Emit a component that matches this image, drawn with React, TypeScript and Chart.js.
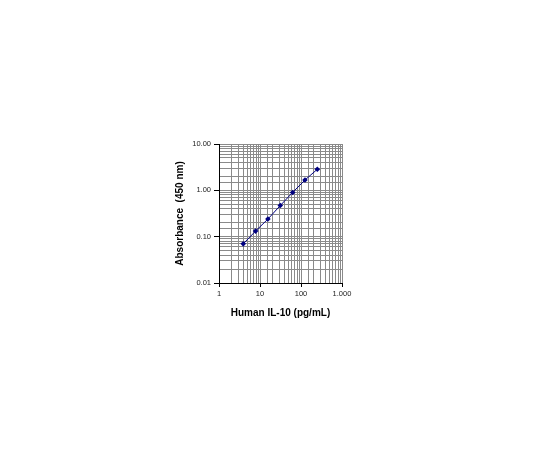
import { useEffect, useRef } from "react";
import { Chart, registerables } from "chart.js";

Chart.register(...registerables);

// IL-10 standard curve (pg/mL vs absorbance at 450 nm)
const concentrations = [3.9, 7.8, 15.6, 31.25, 62.5, 125, 250];
const absorbances = [0.07, 0.132, 0.24, 0.47, 0.9, 1.67, 2.85];

const xTickValues = [1, 10, 100, 1000];
const xTickLabels = ["1", "10", "100", "1.000"];
const yTickValues = [0.01, 0.1, 1, 10];
const yTickLabels = ["0.01", "0.10", "1.00", "10.00"];

const FONT = "'Liberation Sans', Arial, sans-serif";
const NAVY = "#000080";

const isDecade = (v: number) => Math.abs(Math.log10(v) - Math.round(Math.log10(v))) < 1e-6;

function labelFor(v: number, values: number[], labels: string[]) {
  const i = values.findIndex((t) => Math.abs(t - v) / t < 1e-6);
  return i >= 0 ? labels[i] : "";
}

export default function App() {
  const canvasRef = useRef<HTMLCanvasElement>(null);
  const chartRef = useRef<Chart | null>(null);

  useEffect(() => {
    if (!canvasRef.current) return;
    chartRef.current?.destroy();

    chartRef.current = new Chart(canvasRef.current, {
      type: "scatter",
      data: {
        datasets: [
          {
            data: concentrations.map((c, i) => ({ x: c, y: absorbances[i] })),
            showLine: true,
            borderColor: NAVY,
            borderWidth: 1,
            backgroundColor: NAVY,
            pointStyle: "rectRot",
            pointRadius: 2.8,
            pointBorderWidth: 0,
          },
        ],
      },
      options: {
        responsive: false,
        animation: false,
        layout: { padding: { left: 174, right: 198, top: 144, bottom: 131 } },
        plugins: { legend: { display: false }, tooltip: { enabled: false } },
        scales: {
          x: {
            type: "logarithmic",
            min: 1,
            max: 1000,
            afterFit: (s: any) => { s.height = 36; },
            border: { color: "#000", width: 1 },
            grid: {
              color: "#8a8a8a",
              lineWidth: 1,
              tickLength: 4,
              tickColor: (ctx: any) => (isDecade(ctx.tick?.value ?? 2) ? "#000" : "rgba(0,0,0,0)"),
            },
            ticks: {
              autoSkip: false,
              maxRotation: 0,
              padding: 2,
              color: "#222",
              font: { family: FONT, size: 7.5 },
              callback: (v: any) => labelFor(Number(v), xTickValues, xTickLabels),
            },
            title: {
              display: true,
              text: "Human IL-10 (pg/mL)",
              color: "#000",
              padding: 0,
              font: { family: FONT, size: 10, weight: "bold" },
            },
          },
          y: {
            type: "logarithmic",
            min: 0.01,
            max: 10,
            afterFit: (s: any) => { s.width = 45; },
            border: { color: "#000", width: 1 },
            grid: {
              color: "#8a8a8a",
              lineWidth: 1,
              tickLength: 5,
              tickColor: (ctx: any) => (isDecade(ctx.tick?.value ?? 2) ? "#000" : "rgba(0,0,0,0)"),
            },
            ticks: {
              autoSkip: false,
              padding: 3,
              color: "#222",
              font: { family: FONT, size: 7.5 },
              callback: (v: any) => labelFor(Number(v), yTickValues, yTickLabels),
            },
            title: {
              display: true,
              text: "Absorbance  (450 nm)",
              color: "#000",
              padding: 0,
              font: { family: FONT, size: 10, weight: "bold" },
            },
          },
        },
      },
    });

    return () => { chartRef.current?.destroy(); };
  }, []);

  return (
    <div style={{ position: "absolute", left: 0, top: 0, width: 540, height: 450, background: "#fff" }}>
      <canvas ref={canvasRef} width={540} height={450} style={{ width: 540, height: 450 }} />
    </div>
  );
}
